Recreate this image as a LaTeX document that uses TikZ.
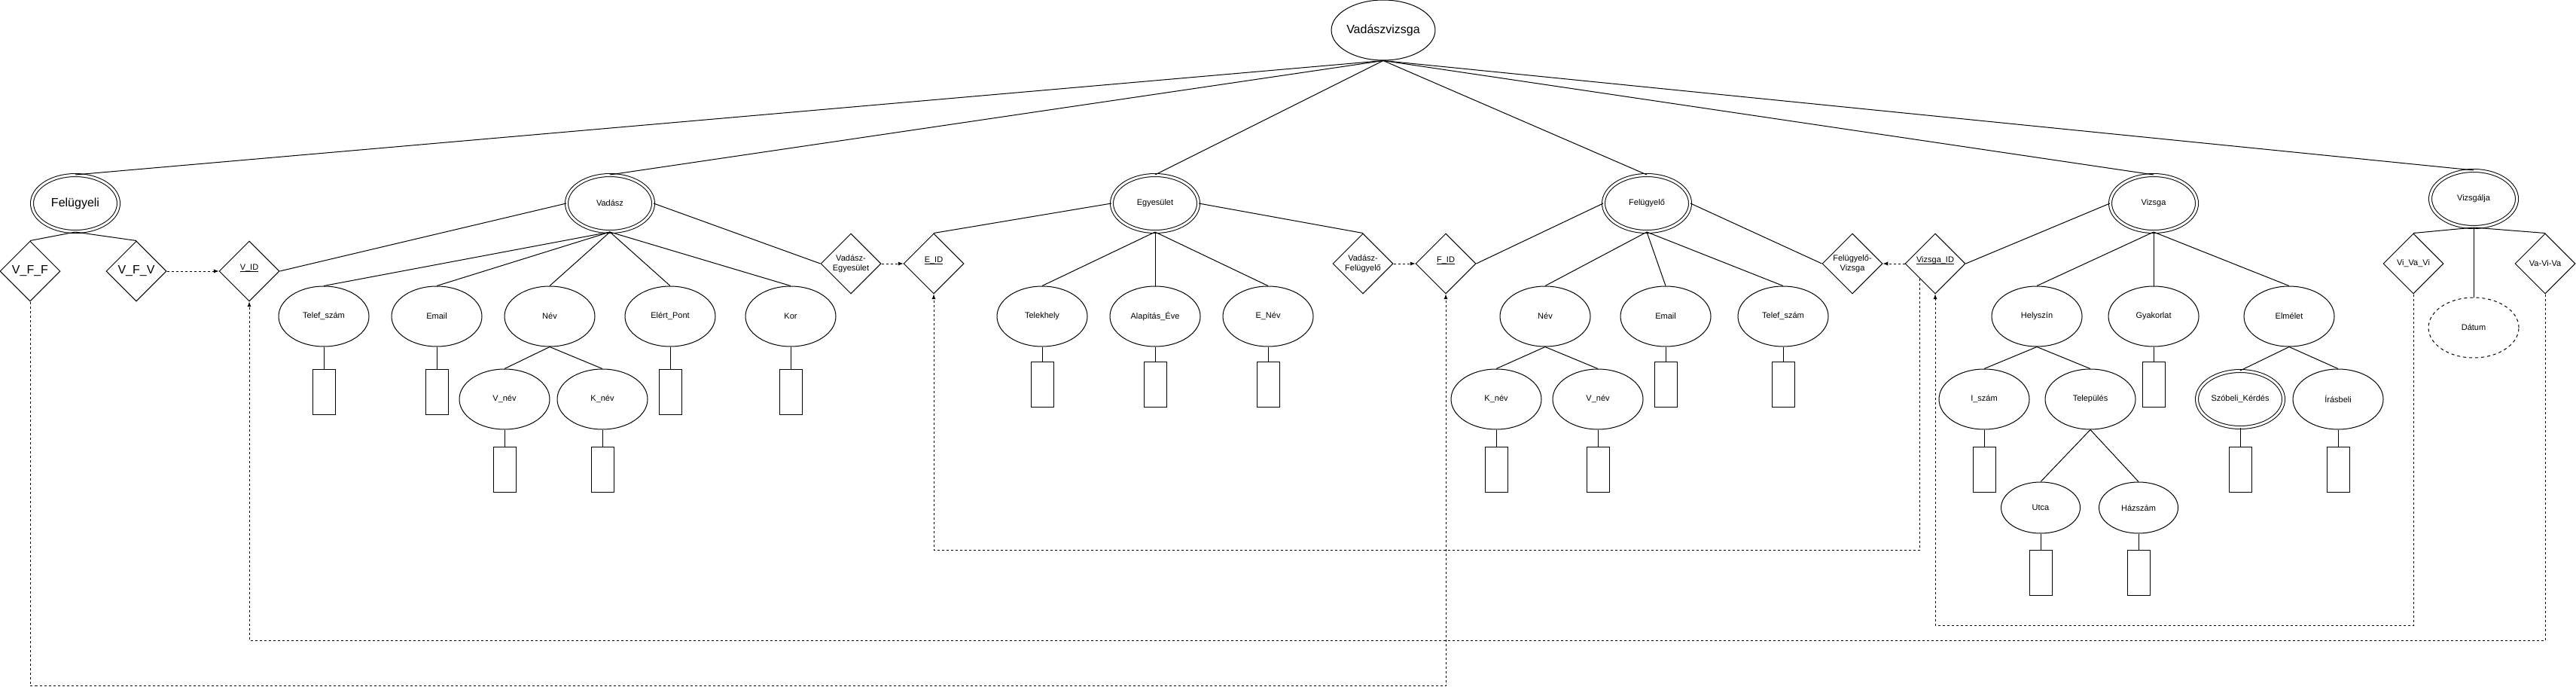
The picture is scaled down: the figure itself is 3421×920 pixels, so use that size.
\documentclass[tikz,border=0pt]{standalone}
\usepackage{fontspec}
\setmainfont{Liberation Sans}
\usepackage{tikz}
\usetikzlibrary{arrows,shapes.geometric}

\newcommand{\erdsmall}{\fontsize{8.25}{9.5}\selectfont}
\newcommand{\erdbig}{\fontsize{12}{14}\selectfont}
\newcommand{\erdkey}[1]{\underline{\smash{#1}}}

\tikzset{
  attrib/.style={draw, ellipse, minimum width=90pt, minimum height=60pt, inner sep=0pt, font=\erdsmall},
  smallattrib/.style={attrib, minimum width=78.75pt, minimum height=51pt},
  entity/.style={attrib, double, double distance=2.25pt, minimum width=86.25pt, minimum height=56.25pt},
  rel/.style={draw, diamond, aspect=1, minimum width=60pt, minimum height=60pt, inner sep=0pt, align=center, font=\erdsmall},
  valbox/.style={draw, rectangle, minimum width=22.5pt, minimum height=45pt, inner sep=0pt},
  keylink/.style={dash pattern=on 2.25pt off 2.25pt, -latex}
}

\begin{document}
\begin{tikzpicture}[x=0.75pt, y=-0.75pt, line width=0.75pt]
  \useasboundingbox (0,0) rectangle (3421,920);

  \node [attrib, font=\erdbig] (vv) at (1837,40) {Vadászvizsga};

  % Felugyeli
  \node [entity, font=\erdbig] (felugyeli) at (100,270) {Felügyeli};
  \node [rel, font=\erdbig] (vff) at (40,360) {V\_F\_F};
  \node [rel, font=\erdbig] (vfv) at (181,360) {V\_F\_V};
  \node [rel] (vid) at (331,360) {\erdkey{V\_ID}};

  % Vadasz
  \node [entity] (vadasz) at (810,270) {Vadász};
  \node [attrib] (vtel) at (430,420) {Telef\_szám};
  \node [attrib] (vemail) at (580,420) {Email};
  \node [attrib] (vnev) at (730,420) {Név};
  \node [attrib] (vvnev) at (670,530) {V\_név};
  \node [attrib] (vknev) at (800,530) {K\_név};
  \node [attrib] (vpont) at (890,420) {Elért\_Pont};
  \node [attrib] (vkor) at (1050,420) {Kor};
  \node [valbox] (vtelb) at (430,520) {};
  \node [valbox] (vemailb) at (580,520) {};
  \node [valbox] (vvnevb) at (670,623) {};
  \node [valbox] (vknevb) at (800,623) {};
  \node [valbox] (vpontb) at (890,520) {};
  \node [valbox] (vkorb) at (1050,520) {};
  \node [rel] (ve) at (1130,350) {Vadász-\\Egyesület};
  \node [rel] (eid) at (1240,350) {\erdkey{E\_ID}};

  % Egyesulet
  \node [entity] (egyesulet) at (1534,270) {Egyesület};
  \node [attrib] (etel) at (1384,420) {Telekhely};
  \node [attrib] (eev) at (1534,420) {Alapítás\_Éve};
  \node [attrib] (enev) at (1684,420) {E\_Név};
  \node [valbox] (etelb) at (1384,510) {};
  \node [valbox] (eevb) at (1534,510) {};
  \node [valbox] (enevb) at (1684,510) {};
  \node [rel] (vf) at (1810,350) {Vadász-\\Felügyelő};
  \node [rel] (fid) at (1920,350) {\erdkey{F\_ID}};

  % Felugyelo
  \node [entity] (felugyelo) at (2187,270) {Felügyelő};
  \node [attrib] (fnev) at (2052,420) {Név};
  \node [attrib] (fknev) at (1987,530) {K\_név};
  \node [attrib] (fvnev) at (2122,530) {V\_név};
  \node [attrib] (femail) at (2212,420) {Email};
  \node [attrib] (ftel) at (2368,420) {Telef\_szám};
  \node [valbox] (fknevb) at (1987,623) {};
  \node [valbox] (fvnevb) at (2122,623) {};
  \node [valbox] (femailb) at (2212,510) {};
  \node [valbox] (ftelb) at (2368,510) {};
  \node [rel] (fv) at (2460,350) {Felügyelő-\\Vizsga};
  \node [rel] (vizsgaid) at (2570,350) {\erdkey{Vizsga\_ID}};

  % Vizsga
  \node [entity] (vizsga) at (2860,270) {Vizsga};
  \node [attrib] (zhely) at (2705,420) {Helyszín};
  \node [attrib] (zisz) at (2635,530) {I\_szám};
  \node [attrib] (ztel) at (2776,530) {Település};
  \node [smallattrib] (zutca) at (2710,674) {Utca};
  \node [smallattrib] (zhsz) at (2840,674) {Házszám};
  \node [attrib] (zgyak) at (2860,420) {Gyakorlat};
  \node [attrib] (zelm) at (3040,420) {Elmélet};
  \node [entity] (zszob) at (2975,530) {Szóbeli\_Kérdés};
  \node [attrib] (ziras) at (3105,530) {Írásbeli};
  \node [valbox] (ziszb) at (2635,623) {};
  \node [valbox] (zutcab) at (2710,760) {};
  \node [valbox] (zhszb) at (2840,760) {};
  \node [valbox] (zgyakb) at (2860,510) {};
  \node [valbox] (zszobb) at (2975,623) {};
  \node [valbox] (zirasb) at (3105,623) {};

  % Vizsgalja
  \node [entity] (vizsgalja) at (3285,264) {Vizsgálja};
  \node [rel] (vivavi) at (3205,350) {Vi\_Va\_Vi};
  \node [rel] (vavivi) at (3380,350) {Va-Vi-Va};
  \node [attrib, dashed] (datum) at (3285,435) {Dátum};

  \coordinate (lvl1) at (0,730);
  \coordinate (lvl2) at (0,830);
  \coordinate (lvl3) at (0,850);
  \coordinate (lvl4) at (0,910);

  \draw (vv.south) -- (felugyeli.north);
  \draw (vv.south) -- (vadasz.north);
  \draw (vv.south) -- (egyesulet.north);
  \draw (vv.south) -- (felugyelo.north);
  \draw (vv.south) -- (vizsga.north);
  \draw (vv.south) -- (vizsgalja.north);

  \draw (felugyeli.south) -- (vff.north);
  \draw (felugyeli.south) -- (vfv.north);

  \draw (vadasz.west) -- (vid.east);
  \draw (vadasz.east) -- (ve.west);
  \draw (vadasz.south) -- (vtel.north);
  \draw (vadasz.south) -- (vemail.north);
  \draw (vadasz.south) -- (vnev.north);
  \draw (vadasz.south) -- (vpont.north);
  \draw (vadasz.south) -- (vkor.north);
  \draw (vnev.south) -- (vvnev.north);
  \draw (vnev.south) -- (vknev.north);
  \draw (vtel.south) -- (vtelb.north);
  \draw (vemail.south) -- (vemailb.north);
  \draw (vvnev.south) -- (vvnevb.north);
  \draw (vknev.south) -- (vknevb.north);
  \draw (vpont.south) -- (vpontb.north);
  \draw (vkor.south) -- (vkorb.north);

  \draw (egyesulet.west) -- (eid.north);
  \draw (egyesulet.east) -- (vf.north);
  \draw (egyesulet.south) -- (etel.north);
  \draw (egyesulet.south) -- (eev.north);
  \draw (egyesulet.south) -- (enev.north);
  \draw (etel.south) -- (etelb.north);
  \draw (eev.south) -- (eevb.north);
  \draw (enev.south) -- (enevb.north);

  \draw (felugyelo.west) -- (fid.east);
  \draw (felugyelo.east) -- (fv.west);
  \draw (felugyelo.south) -- (fnev.north);
  \draw (felugyelo.south) -- (femail.north);
  \draw (felugyelo.south) -- (ftel.north);
  \draw (fnev.south) -- (fknev.north);
  \draw (fnev.south) -- (fvnev.north);
  \draw (fknev.south) -- (fknevb.north);
  \draw (fvnev.south) -- (fvnevb.north);
  \draw (femail.south) -- (femailb.north);
  \draw (ftel.south) -- (ftelb.north);

  \draw (vizsga.west) -- (vizsgaid.east);
  \draw (vizsga.south) -- (zhely.north);
  \draw (vizsga.south) -- (zgyak.north);
  \draw (vizsga.south) -- (zelm.north);
  \draw (zhely.south) -- (zisz.north);
  \draw (zhely.south) -- (ztel.north);
  \draw (ztel.south) -- (zutca.north);
  \draw (ztel.south) -- (zhsz.north);
  \draw (zelm.south) -- (zszob.north);
  \draw (zelm.south) -- (ziras.north);
  \draw (zisz.south) -- (ziszb.north);
  \draw (zutca.south) -- (zutcab.north);
  \draw (zhsz.south) -- (zhszb.north);
  \draw (zgyak.south) -- (zgyakb.north);
  \draw (zszob.south) -- (zszobb.north);
  \draw (ziras.south) -- (zirasb.north);

  \draw (vizsgalja.south) -- (vivavi.north);
  \draw (vizsgalja.south) -- (vavivi.north);
  \draw (vizsgalja.south) -- (datum.north);

  % foreign keys
  \draw [keylink] (vfv.east) -- (vid.west);
  \draw [keylink] (ve.east) -- (eid.west);
  \draw [keylink] (vf.east) -- (fid.west);
  \draw [keylink] (vizsgaid.west) -- (fv.east);
  \draw [keylink] (vizsgaid.south west) -- (vizsgaid.south west |- lvl1) -| (eid.south);
  \draw [keylink] (vivavi.south) -- (vivavi.south |- lvl2) -| (vizsgaid.south);
  \draw [keylink] (vavivi.south) -- (vavivi.south |- lvl3) -| (vid.south);
  \draw [keylink] (vff.south) -- (vff.south |- lvl4) -| (fid.south);
\end{tikzpicture}
\end{document}
